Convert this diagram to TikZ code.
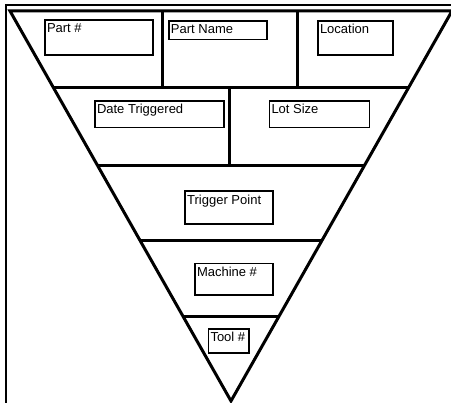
\documentclass[tikz,border=0pt]{standalone}
\usepackage{fontspec}
\setmainfont{Liberation Sans}
\usetikzlibrary{calc}
\begin{document}
\begin{tikzpicture}[x=1pt,y=-1pt,
  tri/.style={line width=3pt, line join=miter},
  divider/.style={line width=3pt},
  frame/.style={line width=2pt},
  box/.style={draw, line width=1.6pt, inner sep=0pt, outer sep=0pt, anchor=north west},
  lbl/.style={font=\fontsize{13}{15}\selectfont, inner sep=0pt, anchor=base west}]
\useasboundingbox (0,0) rectangle (451,403);
\fill[white] (0,0) rectangle (451,403);
% frame
\coordinate (FB) at (6,410);
\coordinate (FC) at (6,5);
\coordinate (FR) at (460,5);
\draw[frame] (FB) -- (FC) -- (FR);
% triangle
\coordinate (TL) at (10,11);
\coordinate (TR) at (452,11);
\coordinate (AP) at (231,401);
\draw[tri] (TL) -- (TR) -- (AP) -- cycle;
% horizontal dividers
\foreach \t [count=\i] in {0.1974,0.3949,0.5872,0.7846} {
  \coordinate (L\i) at ($(TL)!\t!(AP)$);
  \coordinate (R\i) at ($(TR)!\t!(AP)$);
  \draw[divider] (L\i) -- (R\i);
}
% vertical dividers
\coordinate (V1t) at (162,11); \coordinate (V1b) at (162,88);
\coordinate (V2t) at (297,11); \coordinate (V2b) at (297,88);
\coordinate (V3t) at (229,88); \coordinate (V3b) at (229,165);
\draw[divider] (V1t) -- (V1b);
\draw[divider] (V2t) -- (V2b);
\draw[divider] (V3t) -- (V3b);
% boxes
\node[box, minimum width=108pt, minimum height=35pt] (partno) at (45,20) {};
\node[box, minimum width=98pt, minimum height=18.5pt] (partname) at (169,21) {};
\node[box, minimum width=75pt, minimum height=34pt] (location) at (318,21) {};
\node[box, minimum width=129pt, minimum height=26.5pt] (date) at (95,101) {};
\node[box, minimum width=100pt, minimum height=26.5pt] (lot) at (269.5,101) {};
\node[box, minimum width=88pt, minimum height=33pt] (trigger) at (185,191) {};
\node[box, minimum width=78pt, minimum height=31.5pt] (machine) at (195,263.5) {};
\node[box, minimum width=40.5pt, minimum height=24pt] (tool) at (208.5,329) {};
% labels
\node[lbl] (partnoT) at ($(partno.north west)+(1.8,13)$) {Part \#};
\node[lbl] (partnameT) at ($(partname.north west)+(1.8,13)$) {Part Name};
\node[lbl] (locationT) at ($(location.north west)+(1.8,13)$) {Location};
\node[lbl] (dateT) at ($(date.north west)+(1.8,13)$) {Date Triggered};
\node[lbl] (lotT) at ($(lot.north west)+(1.8,13)$) {Lot Size};
\node[lbl] (triggerT) at ($(trigger.north west)+(2,13.5)$) {Trigger Point};
\node[lbl] (machineT) at ($(machine.north west)+(1.8,13)$) {Machine \#};
\node[lbl] (toolT) at ($(tool.north west)+(1.8,13)$) {Tool \#};
\end{tikzpicture}
\end{document}
